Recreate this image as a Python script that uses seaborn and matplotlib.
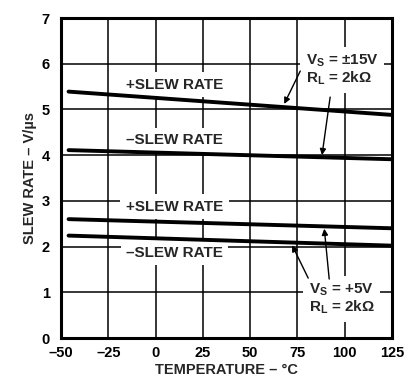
import matplotlib
matplotlib.use("Agg")
import matplotlib.pyplot as plt
import seaborn as sns
import pandas as pd

# ---- data ----
temps = [-46, 125]
pos_15 = [5.39, 4.88]
neg_15 = [4.11, 3.91]
pos_5 = [2.60, 2.40]
neg_5 = [2.24, 2.02]
series_names = ["+SLEW ±15V", "–SLEW ±15V", "+SLEW +5V", "–SLEW +5V"]
x_ticks = [-50, -25, 0, 25, 50, 75, 100, 125]
y_ticks = [0, 1, 2, 3, 4, 5, 6, 7]

sns.set_theme(style="white")
plt.rcParams["font.family"] = ["Liberation Sans", "DejaVu Sans"]
plt.rcParams["font.weight"] = "bold"
plt.rcParams["mathtext.fontset"] = "custom"
plt.rcParams["mathtext.rm"] = "Liberation Sans:bold"
plt.rcParams["mathtext.it"] = "Liberation Sans:bold"
plt.rcParams["mathtext.bf"] = "Liberation Sans:bold"

rows = []
for name, vals in zip(series_names, [pos_15, neg_15, pos_5, neg_5]):
    for t, v in zip(temps, vals):
        rows.append({"temp": t, "rate": v, "series": name})
df = pd.DataFrame(rows)

fig = plt.figure(figsize=(4.17, 3.77), dpi=100)
ax = fig.add_axes([61/417, 39/377, 331/417, 320/377])

sns.lineplot(data=df, x="temp", y="rate", units="series", estimator=None,
             color="black", linewidth=2.8, ax=ax, legend=False, zorder=4)

ax.set_xlim(-50, 125)
ax.set_ylim(0, 7)
ax.set_xticks(x_ticks)
ax.set_yticks(y_ticks)
ax.set_xticklabels([f"{v}".replace("-", "–") for v in x_ticks], fontweight="bold", fontsize=10.5)
ax.set_yticklabels([str(v) for v in y_ticks], fontweight="bold", fontsize=10.5)
ax.tick_params(axis="x", length=0, pad=6, colors="black")
ax.tick_params(axis="y", length=0, pad=8, colors="black")
ax.grid(True, color="black", linewidth=1.1)
ax.set_axisbelow(True)
for s in ax.spines.values():
    s.set_color("black")
    s.set_linewidth(2.2)
    s.set_zorder(6)

ax.set_xlabel("TEMPERATURE – °C", fontweight="bold", fontsize=10.5, labelpad=2)
ax.set_ylabel("SLEW RATE – V/µs", fontweight="bold", fontsize=10.5, labelpad=3)

box = dict(facecolor="white", edgecolor="none", pad=4)
for (x, y, s) in [(10, 5.54, "+SLEW RATE"), (10, 4.33, "–SLEW RATE"),
                  (10, 2.87, "+SLEW RATE"), (10, 1.87, "–SLEW RATE")]:
    ax.text(x, y, s, ha="center", va="center", fontsize=11, fontweight="bold",
            bbox=box, zorder=3)

ax.text(79.5, 5.87, "V$_\\mathregular{S}$ = ±15V\nR$_\\mathregular{L}$ = 2kΩ",
        ha="left", va="center", fontsize=11, fontweight="bold",
        linespacing=1.1, bbox=box, zorder=3)
ax.text(81, 0.86, "V$_\\mathregular{S}$ = +5V\nR$_\\mathregular{L}$ = 2kΩ",
        ha="left", va="center", fontsize=11, fontweight="bold",
        linespacing=1.1, bbox=box, zorder=3)

arrow = dict(arrowstyle="-|>", color="black", lw=1.0, mutation_scale=9, shrinkA=0, shrinkB=0)
for (tx, ty, sx, sy) in [(68, 5.12, 76.5, 5.84), (88, 4.0, 92.3, 5.27),
                         (72.2, 2.03, 80.7, 1.31), (89.2, 2.39, 91.8, 1.29)]:
    ax.annotate("", xy=(tx, ty), xytext=(sx, sy), arrowprops=arrow, zorder=5)

fig.savefig("out.png", dpi=100)
